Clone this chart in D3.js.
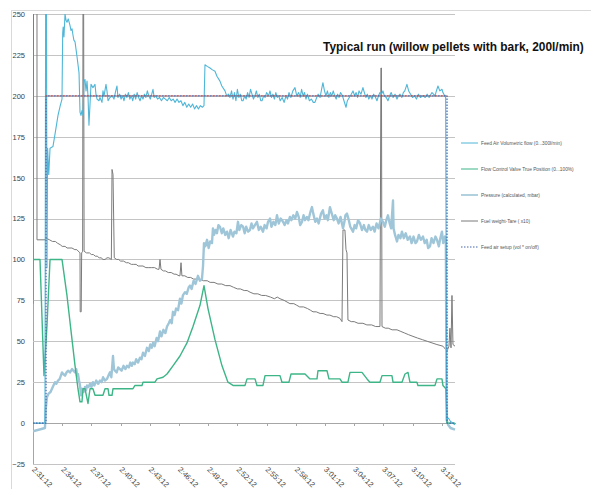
<!DOCTYPE html>
<meta charset="utf-8">
<script src="https://d3js.org/d3.v7.min.js"></script>
<style>
body { margin: 0; background: #fff; }
text { font-family: "Liberation Sans", Arial, sans-serif; }
.grid line { stroke: #c4c4c4; stroke-width: 1; shape-rendering: crispEdges; }
.grid path { stroke: #a6a6a6; shape-rendering: crispEdges; }
.grid text, .xlab text { fill: #404040; font-size: 7.5px; }
.x0 line, .x0 path { stroke: #a6a6a6; shape-rendering: crispEdges; }
.series { fill: none; stroke-linejoin: round; }
.legend text { fill: #555; font-size: 4.8px; }
</style>
<body>
<script>

// tick labels (clock time) and y ticks
var timeLabels = ["2:31:12","2:34:12","2:37:12","2:40:12","2:43:12","2:46:12","2:49:12","2:52:12",
                  "2:55:12","2:58:12","3:01:12","3:04:12","3:07:12","3:10:12","3:13:12"];
var yTicks = [-25, 0, 25, 50, 75, 100, 125, 150, 175, 200, 225, 250];
var runMinutes = 43.36;   // length of the record after 2:31:12

// series: [minutes after 2:31:12, value]
var feedAir = [[0,0],[1.23,0],[1.30,262],[1.38,262],[1.44,95],[1.50,168],[1.62,152],[1.75,168],[2.05,169],[2.30,178],[2.57,188],[2.80,194],[2.98,198],[3.05,238],[3.10,242],[3.18,236],[3.29,250],[3.40,246],[3.49,245],[3.62,247],[3.80,243],[3.90,240],[4.01,241],[4.11,237],[4.20,234],[4.32,233],[4.52,224],[4.73,214],[4.83,190],[4.93,188],[5.03,191],[5.14,188],[5.24,209],[5.34,210],[5.45,203],[5.55,209],[5.65,200],[5.75,182],[5.86,195],[5.96,207],[6.16,205],[6.37,207],[6.47,201],[6.58,198],[6.78,197],[6.88,199],[7.09,196],[7.19,203],[7.30,200],[7.50,207],[7.60,203],[7.71,197],[7.91,199],[8.12,200],[8.32,198],[8.50,203],[8.63,206],[8.73,199],[8.9,201],[9.05,198],[9.2,200],[9.35,197],[9.5,201],[9.65,199],[9.8,202],[9.95,198],[10.1,200],[10.25,197],[10.4,201],[10.55,198],[10.7,202],[10.85,199],[11.0,197],[11.15,200],[11.3,198],[11.45,201],[11.6,199],[11.75,203],[11.9,200],[12.05,198],[12.2,201],[12.33,204],[12.45,199],[12.6,200],[12.8,198],[13.0,199],[13.2,197],[13.4,199],[13.6,198],[13.8,197],[14.0,199],[14.2,197],[14.4,198],[14.6,196],[14.8,198],[15.0,196],[15.2,197],[15.4,194],[15.6,196],[15.8,193],[16.0,195],[16.2,193],[16.4,195],[16.6,192],[16.8,194],[17.0,192],[17.2,194],[17.4,193],[17.57,194],[17.67,219],[17.9,218],[18.19,217],[18.4,216],[18.7,215],[18.9,212],[19.21,209],[19.4,206],[19.73,203],[19.9,200],[20.1,201],[20.24,199],[20.4,203],[20.55,198],[20.7,202],[20.85,197],[21.0,204],[21.15,199],[21.3,201],[21.45,197],[21.58,197],[21.75,200],[21.9,198],[22.05,202],[22.2,199],[22.35,204],[22.5,201],[22.65,198],[22.8,200],[22.95,203],[23.1,199],[23.25,201],[23.4,197],[23.53,197],[23.7,200],[23.85,199],[24.0,202],[24.2,200],[24.35,203],[24.5,199],[24.65,201],[24.8,198],[24.95,202],[25.1,199],[25.25,200],[25.4,197],[25.6,199],[25.8,196],[26.0,200],[26.15,198],[26.3,202],[26.5,199],[26.7,203],[26.92,205],[27.1,200],[27.3,202],[27.45,199],[27.6,204],[27.75,200],[27.9,202],[28.05,198],[28.2,201],[28.4,197],[28.6,198],[28.8,196],[28.97,196],[29.15,199],[29.3,201],[29.5,199],[29.65,204],[29.79,208],[29.95,203],[30.1,200],[30.25,203],[30.4,199],[30.55,202],[30.7,200],[30.85,203],[31.0,200],[31.15,198],[31.3,201],[31.45,199],[31.6,202],[31.8,200],[31.95,197],[32.16,193],[32.3,197],[32.5,199],[32.7,201],[32.88,203],[33.05,200],[33.2,202],[33.35,199],[33.5,203],[33.7,201],[33.9,205],[34.05,202],[34.2,199],[34.35,201],[34.5,198],[34.7,200],[34.83,198],[35.0,201],[35.2,199],[35.34,197],[35.5,200],[35.65,202],[35.8,201],[35.96,203],[36.1,200],[36.3,199],[36.47,197],[36.65,200],[36.8,202],[37.0,199],[37.2,201],[37.4,198],[37.55,200],[37.71,201],[37.9,199],[38.05,202],[38.2,203],[38.42,207],[38.6,203],[38.8,201],[39.0,199],[39.2,200],[39.4,198],[39.6,201],[39.8,199],[40.07,200],[40.3,199],[40.5,201],[40.7,199],[40.99,202],[41.15,201],[41.3,200],[41.45,203],[41.61,206],[41.8,203],[42.02,204],[42.12,202],[42.3,200],[42.4,199],[42.5,2],[42.7,3],[42.9,1],[43.36,-1]];

var valve = [[0,100],[0.72,100],[1.13,29],[1.44,60],[1.75,100],[2.98,100],[3.49,78],[4.01,51],[4.32,35],[4.62,21],[4.83,13],[5.03,13],[5.14,21],[5.34,21],[5.55,15],[5.65,12],[5.86,21],[6.16,21],[6.37,17],[7.19,17],[7.40,21],[7.71,21],[7.81,17],[8.12,17],[8.22,21],[10.27,21],[10.48,23],[11.20,23],[11.30,25],[12.53,25],[12.74,27],[13.36,28],[13.77,30],[14.38,35],[15.10,41],[15.82,49],[16.44,59],[17.16,72],[17.57,84],[17.98,70],[18.70,51],[19.42,35],[20.03,25],[20.55,23],[21.78,23],[21.99,27],[22.81,27],[23.01,23],[23.63,23],[23.84,29],[25.38,29],[25.58,25],[26.30,25],[26.51,30],[27.95,30],[28.46,27],[29.18,27],[29.28,32],[30.21,32],[30.41,27],[31.54,27],[31.75,25],[32.36,25],[32.57,31],[33.80,31],[34.32,27],[34.62,25],[35.65,25],[35.86,29],[36.88,29],[36.99,25],[37.91,25],[38.22,30],[38.53,31],[38.73,25],[39.45,25],[39.55,23],[41.30,23],[41.51,27],[42.02,27],[42.12,23],[42.43,21],[42.54,0],[43.36,0]];

var pressure = [[0,-5],[1.23,-3],[1.30,8],[1.44,16],[1.6,18],[1.8,19],[1.95,21],[2.1,23],[2.26,25],[2.4,24],[2.57,26],[2.75,27],[2.98,31],[3.1,30],[3.29,29],[3.45,31],[3.60,32],[3.8,31],[4.01,33],[4.15,32],[4.32,31],[4.45,33],[4.52,29],[4.62,30],[4.73,26],[4.83,23],[4.93,17],[5.03,21],[5.2,19],[5.34,22],[5.45,20],[5.55,23],[5.7,22],[5.86,24],[6.0,22],[6.16,25],[6.3,23],[6.5,26],[6.7,24],[6.88,26],[7.05,25],[7.2,28],[7.4,26],[7.60,27],[7.75,29],[7.91,31],[8.05,28],[8.22,41],[8.32,33],[8.42,32],[8.6,31],[8.75,34],[8.94,33],[9.1,32],[9.3,35],[9.5,33],[9.66,35],[9.85,34],[10.0,37],[10.15,35],[10.27,37],[10.45,36],[10.6,39],[10.8,37],[10.99,40],[11.15,39],[11.3,43],[11.5,41],[11.71,46],[11.9,44],[12.05,48],[12.2,46],[12.33,49],[12.5,47],[12.7,52],[12.85,50],[13.05,56],[13.2,53],[13.4,57],[13.6,55],[13.77,59],[13.95,61],[14.1,63],[14.25,61],[14.38,68],[14.55,66],[14.7,70],[14.9,69],[15.10,76],[15.25,73],[15.4,78],[15.62,80],[15.8,79],[16.0,83],[16.13,84],[16.3,82],[16.5,87],[16.7,85],[16.95,90],[17.15,87],[17.36,88],[17.47,96],[17.57,110],[17.7,108],[17.88,112],[18.05,107],[18.2,111],[18.39,110],[18.49,119],[18.6,115],[18.75,118],[18.9,116],[19.05,121],[19.21,120],[19.4,116],[19.55,119],[19.75,115],[19.93,117],[20.1,113],[20.3,118],[20.55,114],[20.7,117],[20.9,116],[21.06,123],[21.2,118],[21.4,121],[21.58,120],[21.75,116],[21.9,120],[22.1,117],[22.29,118],[22.45,122],[22.6,119],[22.8,121],[23.01,123],[23.2,118],[23.4,120],[23.63,117],[23.8,121],[24.0,119],[24.15,123],[24.35,125],[24.5,120],[24.7,123],[24.9,121],[25.07,127],[25.25,122],[25.45,125],[25.69,123],[25.85,121],[26.05,124],[26.2,122],[26.40,126],[26.55,124],[26.75,127],[26.95,125],[27.12,129],[27.3,126],[27.45,121],[27.64,123],[27.8,127],[27.95,124],[28.15,126],[28.3,124],[28.5,129],[28.66,132],[28.8,128],[29.0,123],[29.18,125],[29.35,122],[29.6,128],[29.79,130],[29.95,125],[30.15,127],[30.3,124],[30.51,132],[30.7,128],[30.9,124],[31.05,127],[31.23,125],[31.4,122],[31.6,126],[31.85,119],[32.0,123],[32.1,127],[32.26,128],[32.45,124],[32.6,120],[32.88,117],[33.05,121],[33.2,119],[33.4,124],[33.60,122],[33.8,118],[34.0,121],[34.15,118],[34.32,117],[34.5,121],[34.7,118],[34.93,120],[35.1,117],[35.3,122],[35.5,119],[35.75,125],[35.96,123],[36.15,120],[36.3,124],[36.47,127],[36.65,122],[36.8,119],[36.99,136],[37.05,119],[37.2,115],[37.40,111],[37.55,115],[37.75,113],[37.91,117],[38.1,113],[38.3,116],[38.5,112],[38.73,114],[38.9,110],[39.1,114],[39.3,110],[39.45,111],[39.65,115],[39.85,112],[40.07,114],[40.25,110],[40.45,112],[40.6,107],[40.79,108],[40.95,113],[41.15,110],[41.35,114],[41.51,112],[41.7,108],[41.85,113],[42.02,117],[42.15,110],[42.33,114],[42.42,112],[42.5,2],[42.65,-1],[42.9,-3],[43.36,-4]];

var fuel = [[0,73],[0.05,262],[0.41,262],[0.41,112],[1.23,112],[1.34,113],[1.7,112],[2.0,111],[2.3,111],[2.5,110],[2.8,109],[3.0,108],[3.3,108],[3.5,107],[3.8,107],[4.0,107],[4.3,106],[4.5,106],[4.83,104],[4.85,68],[4.95,68],[5.0,104],[5.1,105],[5.14,262],[5.2,262],[5.25,105],[5.5,104],[5.8,104],[6.0,103],[6.2,103],[6.4,102],[6.6,102],[6.8,101],[7.0,101],[7.2,100],[7.4,100],[7.6,101],[7.8,101],[8.05,100],[8.12,155],[8.22,152],[8.35,101],[8.6,100],[8.8,100],[9.0,99],[9.3,99],[9.6,98],[9.8,98],[10.1,97],[10.3,97],[10.6,97],[10.8,96],[11.1,96],[11.3,96],[11.6,95],[11.9,95],[12.2,95],[12.5,95],[12.8,94],[12.95,94],[13.05,100],[13.15,94],[13.4,93],[13.6,93],[13.9,92],[14.2,92],[14.5,91],[14.7,91],[15.0,90],[15.1,90],[15.21,98],[15.3,90],[15.6,90],[15.9,89],[16.2,89],[16.5,88],[16.8,88],[17.16,88],[17.5,87],[17.9,87],[18.2,86],[18.6,86],[19.0,85],[19.4,85],[19.8,84],[20.24,84],[20.6,83],[21.0,82],[21.3,82],[21.7,81],[22.0,81],[22.3,80],[22.7,79],[23.1,79],[23.5,78],[23.9,78],[24.4,77],[24.8,76],[25.1,77],[25.38,76],[25.8,75],[26.1,74],[26.4,73],[26.8,73],[27.1,72],[27.4,71],[27.8,71],[28.2,70],[28.5,69],[28.77,68],[29.1,68],[29.5,67],[29.8,67],[30.2,66],[30.5,66],[30.9,65],[31.2,65],[31.54,64],[31.75,62],[31.85,118],[32.05,118],[32.16,106],[32.26,104],[32.36,63],[32.7,62],[33.0,62],[33.4,61],[33.9,61],[34.3,60],[34.8,60],[35.2,59],[35.65,59],[35.75,217],[35.8,217],[35.86,59],[36.2,58],[36.5,58],[36.9,57],[37.4,57],[37.8,56],[38.2,55],[38.6,54],[39.04,53],[39.5,52],[40.0,51],[40.5,50],[41.0,49],[41.5,48],[42.12,47],[42.54,44],[42.74,47],[42.84,58],[42.95,46],[43.05,78],[43.15,48],[43.36,47]];

var setup = [[0,0],[1.34,0],[1.34,200],[42.54,200],[42.54,0],[43.36,0]];
var setpoint = 200;

var seriesNames = ["Feed Air Volumetric  flow  (0...300l/min)",
                   "Flow Control  Valve True Position  (0...100%)",
                   "Pressure (calculated,    mbar)",
                   "Fuel weight-Tare  ( x10)",
                   "Feed air setup  (vol * on/off)"];
var seriesColors = ["#4fb6d8", "#3db587", "#9fc6d8", "#7b7b7b", "#4464a8"];

var title = "Typical run (willow pellets with bark, 200l/min)";

// ---- layout
var W = 591, H = 489;
var pLeft = 33, pRight = 455, pTop = 14, pBottom = 464;

var svg = d3.select("body").append("svg")
    .attr("width", W)
    .attr("height", H);

// chart frame
svg.append("rect")
    .attr("x", 11.5).attr("y", 10.5)
    .attr("width", W).attr("height", H)
    .attr("fill", "none")
    .attr("stroke", "#d9d9d9");

var parseClock = d3.timeParse("%H:%M:%S");
var base = parseClock(timeLabels[0]);
function t(m) { return new Date(base.getTime() + m * 60000); }

var x = d3.scaleTime()
    .domain([base, t(runMinutes)])
    .range([pLeft, pRight]);

var y = d3.scaleLinear()
    .domain([-25, 250])
    .range([pBottom, pTop]);

// gridlines + y labels
svg.append("g")
    .attr("class", "grid")
    .attr("transform", "translate(" + pLeft + ",0)")
    .call(d3.axisLeft(y)
        .tickValues(yTicks)
        .tickSize(-(pRight - pLeft))
        .tickSizeOuter(0)
        .tickPadding(8));

// x axis on the zero line, with ticks only
var tickDates = timeLabels.map(parseClock);
svg.append("g")
    .attr("class", "x0")
    .attr("transform", "translate(0," + y(0) + ")")
    .call(d3.axisBottom(x).tickValues(tickDates).tickSize(3).tickSizeOuter(0).tickFormat(""));

// time labels under the plot, slanted
var xl = svg.append("g")
    .attr("class", "xlab")
    .attr("transform", "translate(0," + pBottom + ")")
    .call(d3.axisBottom(x).tickValues(tickDates).tickSize(0)
        .tickFormat(function(d, i) { return timeLabels[i]; }));
xl.select(".domain").remove();
xl.selectAll("text")
    .attr("text-anchor", "start")
    .attr("x", 0).attr("y", 0).attr("dy", 0)
    .attr("transform", "translate(-2,6) rotate(45)");

// clip the lines to the plot
svg.append("clipPath").attr("id", "plot")
  .append("rect")
    .attr("x", pLeft).attr("y", pTop)
    .attr("width", pRight - pLeft + 1).attr("height", pBottom - pTop);

var line = d3.line()
    .x(function(d) { return x(t(d[0])); })
    .y(function(d) { return y(d[1]); });

var plot = svg.append("g").attr("clip-path", "url(#plot)");

plot.append("path").datum(fuel)
    .attr("class", "series")
    .attr("stroke", seriesColors[3])
    .attr("stroke-width", 1)
    .attr("d", line);

plot.append("path").datum(pressure)
    .attr("class", "series")
    .attr("stroke", seriesColors[2])
    .attr("stroke-width", 2.4)
    .attr("d", line);

plot.append("path").datum(valve)
    .attr("class", "series")
    .attr("stroke", seriesColors[1])
    .attr("stroke-width", 1.4)
    .attr("d", line);

plot.append("path").datum(feedAir)
    .attr("class", "series")
    .attr("stroke", seriesColors[0])
    .attr("stroke-width", 1.1)
    .attr("d", line);

plot.append("path").datum(setup)
    .attr("class", "series")
    .attr("stroke", seriesColors[4])
    .attr("stroke-width", 1.2)
    .attr("stroke-dasharray", "1.5,1.5")
    .attr("d", line);

// set point shown red dotted while the feed is on
plot.append("line")
    .attr("x1", x(t(setup[2][0]))).attr("x2", x(t(setup[3][0])))
    .attr("y1", y(setpoint)).attr("y2", y(setpoint))
    .attr("stroke", "#c0504d")
    .attr("stroke-width", 1)
    .attr("stroke-dasharray", "1.5,1.5");

// title, squeezed horizontally to the narrow width of the original font
var titleText = svg.append("text")
    .attr("font-size", "13px")
    .attr("font-weight", "bold")
    .attr("fill", "#111")
    .text(title);
var natural = titleText.node().getComputedTextLength();
titleText.attr("transform", "translate(323,51) scale(" + (261 / natural) + ",1)");

// legend
var lg = svg.append("g").attr("class", "legend");
seriesNames.forEach(function(name, i) {
    var ly = 143 + i * 26;
    lg.append("line")
        .attr("x1", 461).attr("x2", 478)
        .attr("y1", ly).attr("y2", ly)
        .attr("stroke", seriesColors[i])
        .attr("stroke-width", i == 2 ? 1.6 : 1)
        .attr("stroke-dasharray", i == 4 ? "1.5,1.5" : null);
    lg.append("text")
        .attr("x", 481).attr("y", ly + 1.7)
        .text(name);
});

</script>
</body>
